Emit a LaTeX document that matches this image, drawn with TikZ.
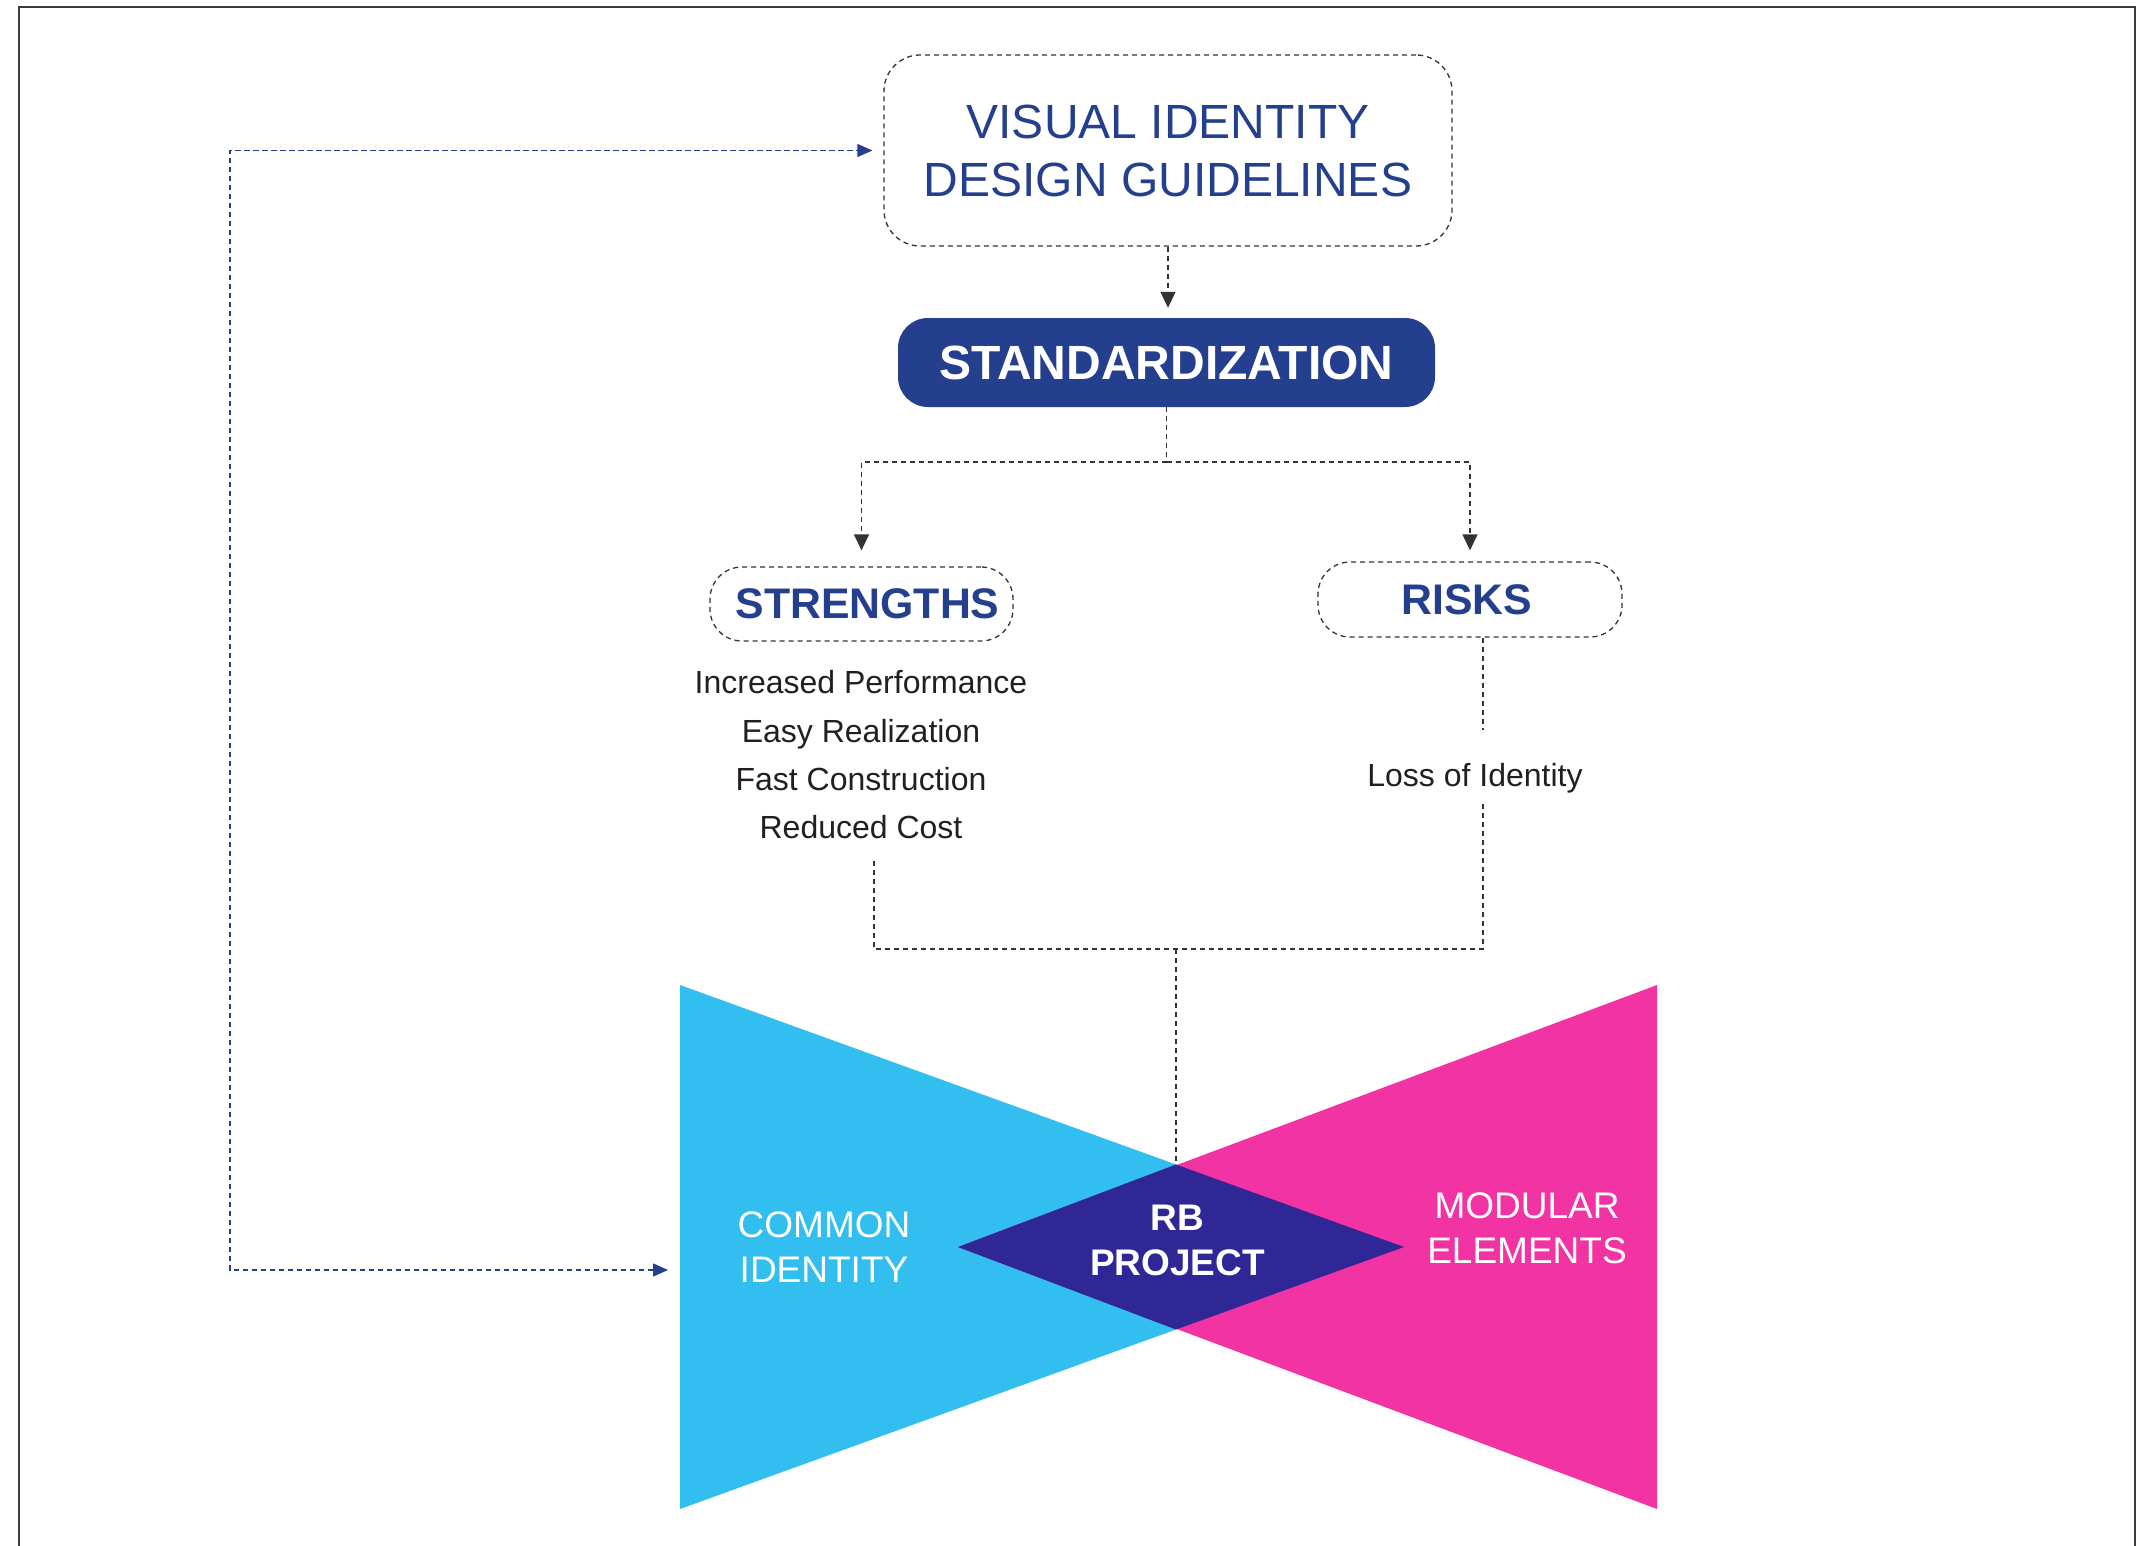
\documentclass[tikz,border=0pt]{standalone}
\usepackage{fontspec}
\setmainfont{Liberation Sans}
\usetikzlibrary{arrows.meta}
\definecolor{idblue}{RGB}{37,63,143}
\definecolor{idcyan}{RGB}{51,190,240}
\definecolor{idmag}{RGB}{242,51,163}
\definecolor{iddia}{RGB}{46,39,149}
\definecolor{idtext}{RGB}{35,31,32}
\definecolor{idline}{RGB}{51,51,51}
\definecolor{idframe}{RGB}{60,60,60}
\begin{document}
\begin{tikzpicture}[x=1pt,y=-1pt,
  dl/.style={draw=idline, line width=1.3pt, dash pattern=on 5pt off 4pt},
  bdl/.style={draw=idblue, line width=1.4pt, dash pattern=on 5.5pt off 3.5pt},
  arrtip/.style={-{Triangle[length=16pt,width=15pt]}},
  dbox/.style={draw=idline, line width=1.3pt, dash pattern=on 5pt off 4pt, rounded corners=#1, inner sep=0pt},
  wlabel/.style={text=white, align=center, inner sep=0pt}
]
\useasboundingbox (0,0) rectangle (2144,1546);
% frame
\draw[idframe, line width=2.5pt] (18,7) -- (2136,7);
\draw[idframe, line width=1.2pt] (19,1546) -- (19,7);
\draw[idframe, line width=1.2pt] (2135,1546) -- (2135,7);

% bow-tie shapes
\coordinate (cTL) at (680,985);
\coordinate (cBL) at (680,1509);
\coordinate (cR) at (1404,1247);
\coordinate (mTR) at (1657,985);
\coordinate (mBR) at (1657,1509);
\coordinate (mL) at (958,1247);
\coordinate (dT) at (1176,1164.5);
\coordinate (dB) at (1176,1329.5);
\fill[idcyan] (cTL) -- (cBL) -- (cR) -- cycle;
\fill[idmag] (mTR) -- (mBR) -- (mL) -- cycle;
\fill[iddia] (dT) -- (cR) -- (dB) -- (mL) -- cycle;

% nodes
\node[dbox=36pt, minimum width=568pt, minimum height=191pt, text=idblue,
      font=\fontsize{48}{58}\selectfont, align=center] (vidg) at (1168,150.5)
      {VISUAL IDENTITY\\DESIGN GUIDELINES};
\node[fill=idblue, rounded corners=30pt, minimum width=537pt, minimum height=89pt,
      inner sep=0pt, text=white, font=\bfseries\fontsize{48}{56}\selectfont]
      (std) at (1166.5,362.5) {STANDARDIZATION};
\node[dbox=32pt, minimum width=303pt, minimum height=74pt, text=idblue,
      font=\bfseries\fontsize{42.8}{50}\selectfont] (str) at (861.5,604) {\hspace*{12pt}STRENGTHS};
\node[dbox=32pt, minimum width=304pt, minimum height=75pt, text=idblue,
      font=\bfseries\fontsize{42.8}{50}\selectfont] (risks) at (1470,599.5) {RISKS\hspace*{6pt}};
\node[text=idtext, font=\fontsize{32}{48.3}\selectfont, align=center, inner sep=0pt]
      (slist) at (861,755)
      {Increased Performance\\Easy Realization\\Fast Construction\\Reduced Cost};
\node[text=idtext, font=\fontsize{32}{38}\selectfont, anchor=base, inner sep=0pt]
      (loss) at (1475,786) {Loss of Identity};
\node[wlabel, font=\fontsize{37}{45}\selectfont] (common) at (824,1247) {COMMON\\IDENTITY};
\node[wlabel, font=\fontsize{37}{45}\selectfont] (modular) at (1527,1228.5) {MODULAR\\ELEMENTS};
\node[wlabel, font=\bfseries\fontsize{37}{45}\selectfont] (rbp) at (1177.5,1240) {RB\\PROJECT};

% connectors
\draw[dl, arrtip, shorten >=10pt] (vidg.south) -- (vidg.south |- std.north);
\coordinate (fork) at (1166.5,462);
\draw[dl] (std.south) -- (fork);
\draw[dl, arrtip, shorten >=16pt] (fork) -| (str.north);
\draw[dl, arrtip, shorten >=11pt] (fork) -| (risks.north);

\coordinate (r1) at (1483,730);
\coordinate (r2) at (1483,804);
\coordinate (rx) at (1483,949);
\coordinate (lx) at (874,949);
\coordinate (s1) at (874,859);
\coordinate (jc) at (1176,949);
\draw[dl] (risks.south -| r1) -- (r1);
\draw[dl] (r2) -- (rx) -- (lx) -- (s1);
\draw[dl] (jc) -- (dT);

% feedback loop
\coordinate (fbT) at (230,150.5);
\coordinate (fbB) at (230,1270);
\coordinate (cyanIn) at (680,1270);
\draw[bdl, {Triangle[length=15pt,width=13pt]}-{Triangle[length=15pt,width=13pt]},
      shorten <=12pt, shorten >=11pt] (cyanIn) -- (fbB) -- (fbT) -- (vidg.west);
\end{tikzpicture}
\end{document}
